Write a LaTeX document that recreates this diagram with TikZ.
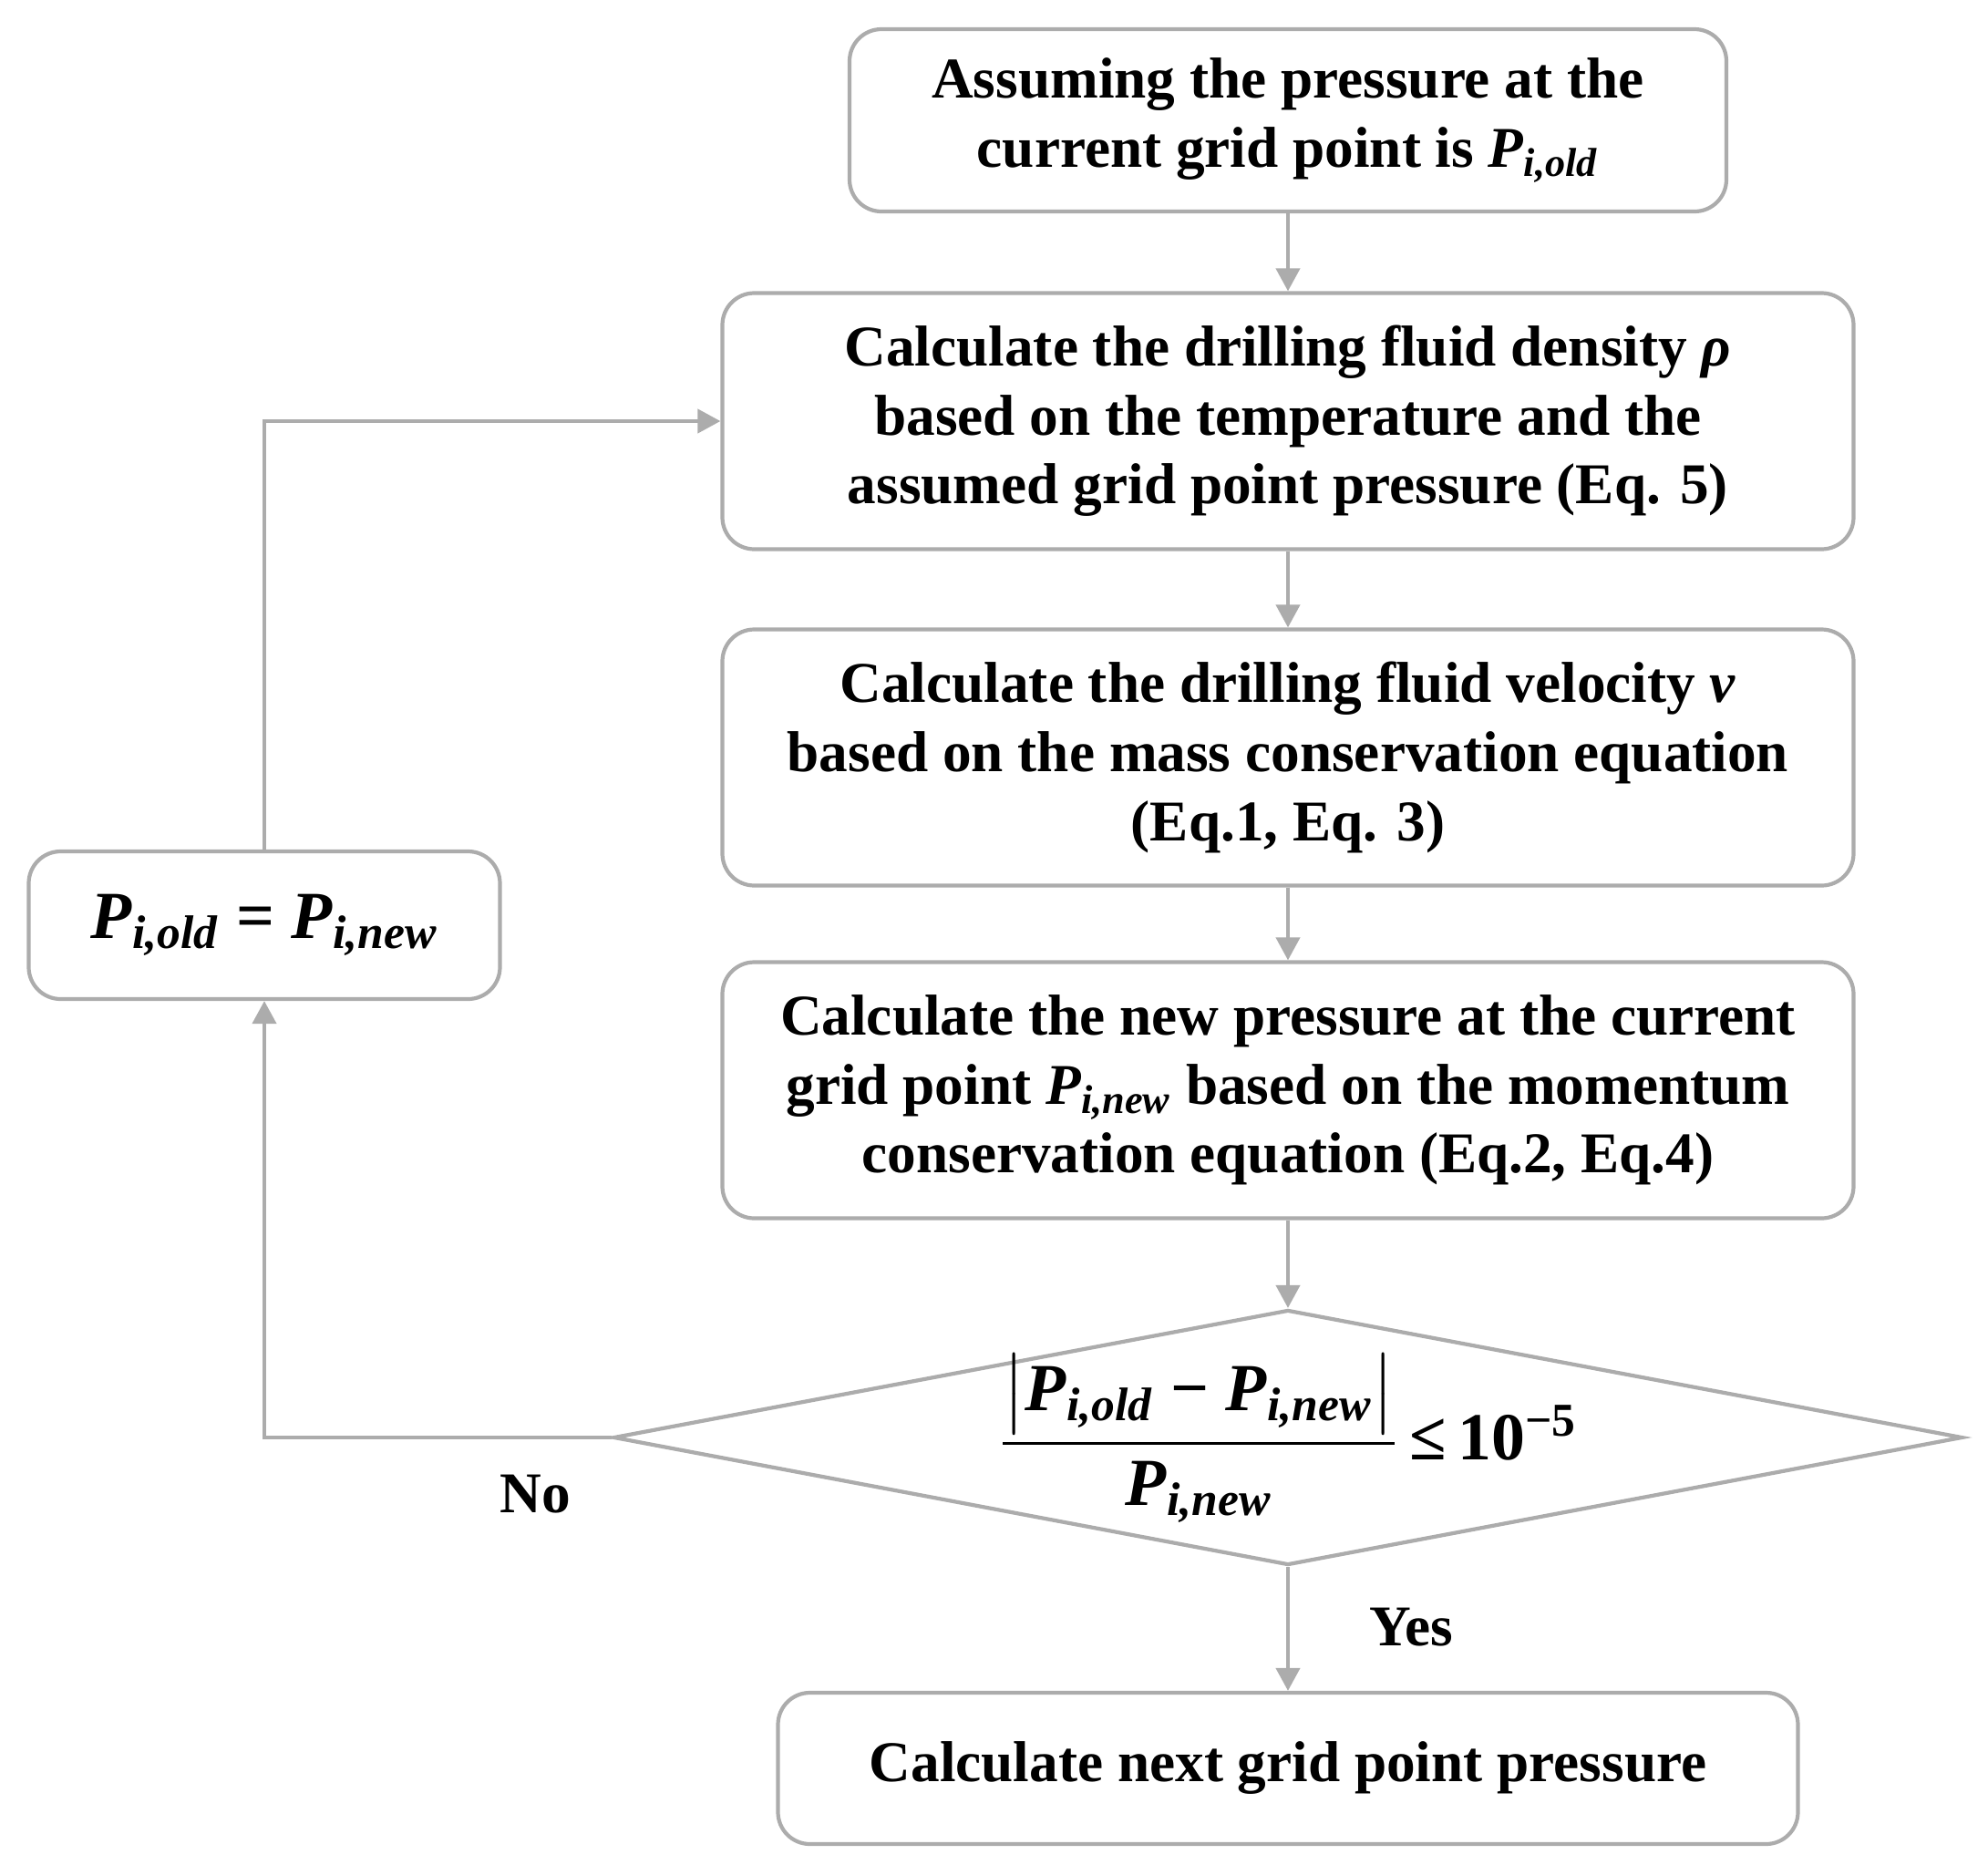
\documentclass[tikz,border=0pt]{standalone}
\usepackage{fontspec}
\setmainfont{Liberation Serif}
\usepackage{amsmath}
\usetikzlibrary{arrows.meta,positioning,shapes.geometric,graphs}
\definecolor{linegray}{RGB}{172,172,172}
\newcommand{\pval}[1]{\textit{P}\textsubscript{\textit{i,#1}}}

\begin{document}
\begin{tikzpicture}
	% Styles
	[
	>={Triangle[length=0.25cm,width=0.26cm]},
	stepbox/.style={rectangle,rounded corners=0.35cm,draw=linegray,line width=1.2pt,fill=white,align=center,inner sep=0pt,font=\fontsize{18}{21.5}\selectfont\bfseries},
	decision/.style={diamond,aspect=5.3,draw=linegray,line width=1.2pt,fill=white,inner sep=0pt,minimum width=14.8cm,minimum height=2.8cm},
	line/.style={draw=linegray,line width=1.2pt},
	tag/.style={font=\fontsize{18}{21.5}\selectfont\bfseries},
	]
	\useasboundingbox (0,0) rectangle (21.81,-20.46);

	% Nodes
	\node at (14.13,-1.32)	(b1)	[stepbox,minimum width=9.62cm,minimum height=2.0cm] {Assuming the pressure at the\\current grid point is \pval{old}};
	\node at (14.13,-4.62)	(b2)	[stepbox,minimum width=12.41cm,minimum height=2.81cm] {Calculate the drilling fluid density \textit{ρ}\\based on the temperature and the\\assumed grid point pressure (Eq. 5)};
	\node at (14.13,-8.31)	(b3)	[stepbox,minimum width=12.41cm,minimum height=2.81cm] {Calculate the drilling fluid velocity \textit{v}\\based on the mass conservation equation\\(Eq.1, Eq. 3)};
	\node at (14.13,-11.96)	(b4)	[stepbox,minimum width=12.41cm,minimum height=2.81cm] {Calculate the new pressure at the current\\grid point \pval{new} based on the momentum\\conservation equation (Eq.2, Eq.4)};
	\node at (14.13,-15.77)	(dia)	[decision,font=\fontsize{21}{25}\selectfont\bfseries] {\smash{\makebox[0pt]{\raisebox{-7pt}{$\displaystyle\frac{\bigl|\text{\pval{old} − \pval{new}}\bigr|}{\text{\pval{new}}}$\,≤\,10\textsuperscript{−5}}}}};
	\node at (14.13,-19.40)	(b5)	[stepbox,minimum width=11.19cm,minimum height=1.66cm] {Calculate next grid point pressure};
	\node at (2.90,-10.15)	(upd)	[stepbox,minimum width=5.17cm,minimum height=1.62cm,font=\fontsize{21}{25}\selectfont\bfseries] {\pval{old} = \pval{new}};

	% Labels
	\node at (5.87,-16.39)	(no)	[tag] {No};
	\node at (15.48,-17.85)	(yes)	[tag] {Yes};

	% Connections
	\graph[use existing nodes, edges={line}] {
		b1 -> b2;
		b2 -> b3;
		b3 -> b4;
		b4 -> dia;
		dia -> b5;
	};
	\draw[line,->] (dia.west) -| (upd.south);
	\draw[line,->] (upd.north) |- (b2.west);

\end{tikzpicture}
\end{document}
